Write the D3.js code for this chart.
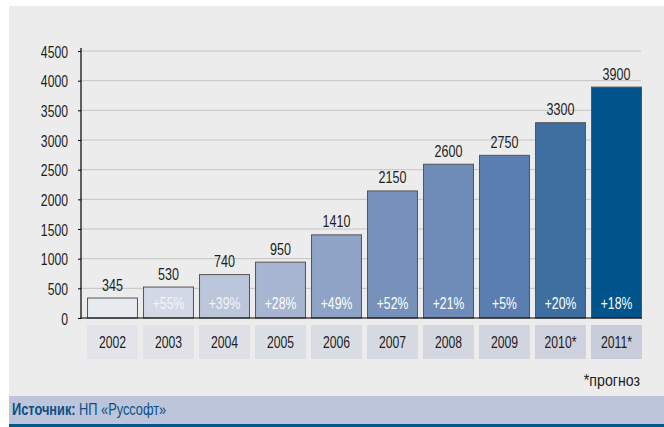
<!DOCTYPE html>
<html>
<head>
<meta charset="utf-8">
<script src="https://cdn.jsdelivr.net/npm/d3@7.9.0/dist/d3.min.js"></script>
<style>
  body { margin: 0; background: #fff; }
  svg { display: block; font-family: "Liberation Sans", Arial, sans-serif; }
</style>
</head>
<body>
<svg id="chart" width="664" height="427"></svg>
<script>
/* data */
const years   = ['2002', '2003', '2004', '2005', '2006', '2007', '2008', '2009', '2010*', '2011*'];
const values  = [345, 530, 740, 950, 1410, 2150, 2600, 2750, 3300, 3900];
const growth  = ['', '+55%', '+39%', '+28%', '+49%', '+52%', '+21%', '+5%', '+20%', '+18%'];
const yTicks  = [0, 500, 1000, 1500, 2000, 2500, 3000, 3500, 4000, 4500];

/* bar + label-box colours, light to dark */
const barColors = ['#e8eaf2', '#d2d8e6', '#bcc6db', '#a7b5d0', '#8ea3c5', '#7692bb', '#6f8cb9', '#5a7eaf', '#3f6fa0', '#00548b'];
const boxColors = ['#e3e4e9', '#e1e2e8', '#dfe0e6', '#dcdee5', '#dadce4', '#d7d9e2', '#d5d7e0', '#d2d4df', '#cfd1dd', '#c9ccda'];

const NARROW = 0.74;   // condensed look, Helvetica Narrow-ish
const svg = d3.select('#chart');

// put a horizontally squeezed label at (px, py)
function narrowText(sel, px, py) {
  return sel.attr('transform', (d, i) => `translate(${px(d, i)},${py(d, i)}) scale(${NARROW},1)`)
    .attr('x', 0).attr('y', 0);
}

/* panels */
svg.append('rect').attr('x', 9).attr('y', 6).attr('width', 655).attr('height', 391).attr('fill', '#ebeceb');
svg.append('rect').attr('x', 9).attr('y', 396).attr('width', 655).attr('height', 28).attr('fill', '#bcc5d9');
svg.append('rect').attr('x', 9).attr('y', 424).attr('width', 655).attr('height', 3).attr('fill', '#00578f');

/* scales */
const x = d3.scaleBand().domain(years).range([84.5, 644.5]).paddingInner(0.09).paddingOuter(0.045);
const y = d3.scaleLinear().domain([0, 4500]).range([318, 51]);
const cx = (d, i) => x(years[i]) + x.bandwidth() / 2;

/* gridlines */
svg.append('g')
  .selectAll('line')
  .data(yTicks.filter(d => d > 0))
  .join('line')
  .attr('x1', 81).attr('x2', 641)
  .attr('y1', d => y(d)).attr('y2', d => y(d))
  .attr('stroke', '#c3c4c4').attr('stroke-width', 1);

/* year boxes */
const yearG = svg.append('g');
yearG.selectAll('rect')
  .data(years)
  .join('rect')
  .attr('x', d => x(d)).attr('y', 325)
  .attr('width', x.bandwidth()).attr('height', 34)
  .attr('fill', (d, i) => boxColors[i]);
yearG.selectAll('text')
  .data(years)
  .join('text')
  .call(narrowText, cx, () => 348)
  .attr('text-anchor', 'middle')
  .attr('font-size', 16.5).attr('fill', '#1e1e1e')
  .text(d => d);

/* bars */
svg.append('g').selectAll('rect')
  .data(values)
  .join('rect')
  .attr('x', (d, i) => x(years[i]) + 0.5)
  .attr('y', d => y(d) + 0.5)
  .attr('width', x.bandwidth() - 1)
  .attr('height', d => y(0) - y(d) - 0.5)
  .attr('fill', (d, i) => barColors[i])
  .attr('stroke', '#555').attr('stroke-width', 1);

/* value labels */
svg.append('g').selectAll('text')
  .data(values)
  .join('text')
  .call(narrowText, cx, d => y(d) - 7)
  .attr('text-anchor', 'middle')
  .attr('font-size', 17).attr('fill', '#1e1e1e')
  .text(d => d);

/* growth labels */
svg.append('g').selectAll('text')
  .data(growth)
  .join('text')
  .call(narrowText, cx, () => 309)
  .attr('text-anchor', 'middle')
  .attr('font-size', 16.5).attr('fill', (d, i) => i < 3 ? '#f2f4f8' : '#ffffff')
  .text(d => d);

/* y axis */
const yAxis = svg.append('g')
  .attr('transform', 'translate(81,0)')
  .call(d3.axisLeft(y).tickValues(yTicks).tickSize(3).tickFormat(d3.format('d')));
yAxis.select('.domain').remove();
yAxis.selectAll('line').attr('stroke', '#000');
yAxis.selectAll('.tick text').remove();
yAxis.selectAll('.tick').append('text')
  .attr('transform', `translate(-13,6) scale(${NARROW},1)`)
  .attr('text-anchor', 'end')
  .attr('font-size', 16.5).attr('fill', '#1e1e1e')
  .text(d => d);

svg.append('line').attr('x1', 81).attr('x2', 81).attr('y1', 48).attr('y2', 318.5).attr('stroke', '#000').attr('stroke-width', 1.2);
svg.append('line').attr('x1', 81).attr('x2', 642).attr('y1', 318).attr('y2', 318).attr('stroke', '#000').attr('stroke-width', 1.2);

/* footnote + source */
svg.append('text')
  .attr('transform', 'translate(640,386) scale(0.86,1)')
  .attr('text-anchor', 'end')
  .attr('font-size', 16.5).attr('fill', '#1e1e1e').text('*прогноз');

const src = svg.append('text')
  .attr('transform', 'translate(12,415) scale(0.8,1)')
  .attr('font-size', 16).attr('fill', '#0b4f84');
src.append('tspan').attr('font-weight', 'bold').text('Источник: ');
src.append('tspan').text('НП «Руссофт»');
</script>
</body>
</html>
